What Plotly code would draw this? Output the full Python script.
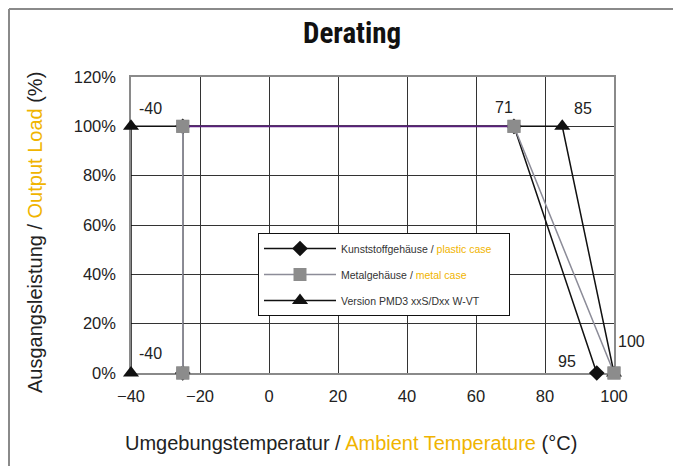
import plotly.graph_objects as go

# ---- data ----
plastic_x = [-25, -25, 71, 95]
plastic_y = [0, 100, 100, 0]
metal_x = [-25, -25, 71, 100]
metal_y = [0, 100, 100, 0]
vt_x = [-40, -40, 85, 100]
vt_y = [0, 100, 100, 0]

x_ticks = [-40, -20, 0, 20, 40, 60, 80, 100]
y_ticks = [0, 20, 40, 60, 80, 100, 120]
y_tick_text = [f"{v}%" for v in y_ticks]

YEL = "#f0b400"
TXT = "#222222"

# screen-pixel helpers (page has an 8px body offset)
PL, PT, PW, PH = 131, 77, 483, 296


def px(x):
    return (x - PL) / PW


def py(y):
    return (PT + PH - y) / PH


fig = go.Figure()

fig.add_trace(go.Scatter(
    x=plastic_x, y=plastic_y, mode="lines+markers",
    name=f"Kunststoffgehäuse / <span style='color:{YEL}'>plastic case</span>&nbsp;&nbsp;&nbsp;&nbsp;",
    line=dict(color="#111111", width=1.5),
    marker=dict(symbol="diamond", size=12, color="#111111"),
    legendgroup="a", cliponaxis=False,
))
fig.add_trace(go.Scatter(
    x=metal_x, y=metal_y, mode="lines+markers",
    name=f"Metalgehäuse / <span style='color:{YEL}'>metal case</span>",
    line=dict(color="#8c8c98", width=1.5),
    marker=dict(symbol="square", size=13, color="#8c8c8c"),
    legendgroup="b", cliponaxis=False,
))
fig.add_trace(go.Scatter(
    x=vt_x, y=vt_y, mode="lines+markers",
    name="Version PMD3 xxS/Dxx W-VT",
    line=dict(color="#111111", width=1.5),
    marker=dict(symbol="triangle-up", size=14, color="#111111"),
    legendgroup="c", cliponaxis=False,
))
# highlighted 100% plateau segment (purple in the reference)
fig.add_trace(go.Scatter(
    x=metal_x[1:3], y=metal_y[1:3], mode="lines",
    line=dict(color="#5a1f7d", width=1.8),
    showlegend=False, hoverinfo="skip",
))
# redraw metal markers on top
fig.add_trace(go.Scatter(
    x=metal_x, y=metal_y, mode="markers",
    marker=dict(symbol="square", size=13, color="#8c8c8c"),
    showlegend=False, hoverinfo="skip", cliponaxis=False,
))

# data labels
labels = [
    (vt_x[1], vt_y[1], str(vt_x[1]), 19, -18),
    (vt_x[0], vt_y[0], str(vt_x[0]), 19, -20),
    (metal_x[2], metal_y[2], str(metal_x[2]), -10, -19),
    (vt_x[2], vt_y[2], str(vt_x[2]), 21, -18),
    (plastic_x[3], plastic_y[3], str(plastic_x[3]), -30, -12),
    (vt_x[3], vt_y[3], str(vt_x[3]), 17, -32),
]
for x, y, t, ax, ay in labels:
    fig.add_annotation(x=x, y=y, text=t, showarrow=False, xshift=ax, yshift=-ay,
                       font=dict(size=16, color=TXT, family="Liberation Sans, Arial"))

# y axis title
fig.add_annotation(
    xref="paper", yref="paper", x=px(35), y=py(233), xanchor="center", yanchor="middle",
    text=f"Ausgangsleistung / <span style='color:{YEL}'>Output Load</span> (%)",
    textangle=-90, showarrow=False,
    font=dict(size=20, color=TXT, family="Liberation Sans, Arial"),
)
# x axis title
fig.add_annotation(
    xref="paper", yref="paper", x=px(351), y=py(443), xanchor="center", yanchor="middle",
    text=f"Umgebungstemperatur / <span style='color:{YEL}'>Ambient Temperature</span> (°C)",
    showarrow=False,
    font=dict(size=20, color=TXT, family="Liberation Sans, Arial"),
)
# title
fig.add_annotation(
    xref="paper", yref="paper", x=px(352), y=py(33), xanchor="center", yanchor="middle",
    text="<b>Derating</b>", showarrow=False,
    font=dict(size=29, color="#111111", family="Liberation Sans Narrow, Roboto Condensed, Arial"),
)

# outer gray frame (top and left edges, at the figure edge)
fig.add_shape(type="line", xref="paper", yref="paper", x0=px(9), y0=py(9), x1=px(700), y1=py(9),
              line=dict(color="#8a8a8a", width=2))
fig.add_shape(type="line", xref="paper", yref="paper", x0=px(9), y0=py(9), x1=px(9), y1=py(480),
              line=dict(color="#8a8a8a", width=2))

fig.update_layout(
    width=673, height=458,
    margin=dict(l=123, r=67, t=69, b=93),
    paper_bgcolor="white", plot_bgcolor="white",
    font=dict(family="Liberation Sans, Arial", size=16, color=TXT),
    legend=dict(
        x=px(258), y=py(233), xanchor="left", yanchor="top",
        bgcolor="white", bordercolor="#111111", borderwidth=1,
        font=dict(size=10.5, color="#333333"),
        tracegroupgap=7, itemwidth=72,
    ),
    xaxis=dict(
        range=[-40, 100], tickvals=x_ticks, showgrid=True, gridcolor="#333333", gridwidth=1,
        zeroline=False, showline=True, mirror=True, linecolor="#8a8a8a", linewidth=1.5,
        ticks="", ticklabelstandoff=7, tickfont=dict(size=16.5, color=TXT), layer="below traces",
    ),
    yaxis=dict(
        range=[0, 120], tickvals=y_ticks, ticktext=y_tick_text, showgrid=True,
        gridcolor="#333333", gridwidth=1,
        zeroline=False, showline=True, mirror=True, linecolor="#8a8a8a", linewidth=1.5,
        ticks="", ticklabelstandoff=10, tickfont=dict(size=16.5, color=TXT), layer="below traces",
    ),
)

fig.write_html("out.html")
